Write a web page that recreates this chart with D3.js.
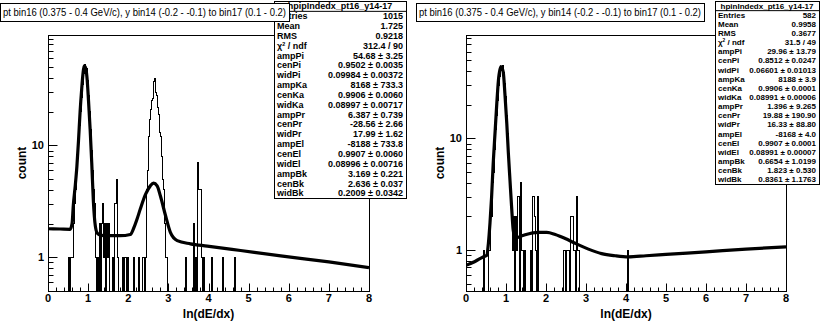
<!DOCTYPE html>
<html><head><meta charset="utf-8">
<script src="https://cdn.jsdelivr.net/npm/d3@7/dist/d3.min.js"></script>
<style>body{margin:0;background:#fff} svg{display:block}</style>
</head><body><svg id="c" width="836" height="328"></svg>
<script>
// ---------------- data ----------------
const binWidth = 0.025;
const nBins = 320;
const xTicks = [0,1,2,3,4,5,6,7,8];
const yTickValues = [1, 10];
const yTickLabels = ["1", "10"];
const titleText = "pt bin16 (0.375 - 0.4 GeV/c), y bin14 (-0.2 - -0.1) to bin17 (0.1 - 0.2)";
const xTitle = "ln(dE/dx)";
const yTitle = "count";

// left histogram (bin number, counts)
const leftBinIndex = [20,22,23,24,25,26,27,28,29,30,31,32,33,34,35,36,37,38,39,40,41,42,43,44,45,46,47,49,
  51,53,54,55,56,58,59,60,64,66,67,68,69,74,76,77,79,85,90,94,95,
  97,98,99,100,101,102,103,104,105,106,107,108,109,110,111,112,113,114,115,116,117,
  118,137,145,147,149,150,151,152,153,155,163,174,186];
const leftBinCount = [1,1,1,1,2,3,4,6,8,11,15,20,27,35,44,53,47,49,38,28,20,14,9,6,4,3,1,1,
  2,2,3,1,2,2,1,2,1,3,3,5,1,1,1,1,1,1,1,1,1,
  1,4,6,12,17,21,25,26,37,40,30,28,22,19,13,12,8,5,4,2,1,
  1,1,2,1,7,4,4,4,1,1,1,1,1];

// right histogram
const rightBinIndex = [17,22,23,24,25,26,27,28,29,30,31,32,33,34,35,36,37,38,39,40,41,42,43,44,45,
  46,47,49,50,51,52,54,55,56,58,64,66,67,68,69,71,
  97,98,100,101,102,104,105,106,107,108,110,111,112,161];
const rightBinCount = [1,1,1,2,2,4,5,8,12,16,22,30,36,44,41,45,39,31,24,16,11,7,5,3,2,
  1,2,2,1,3,3,4,1,1,1,1,3,3,2,1,3,
  1,1,1,1,1,2,2,2,1,1,3,1,1,1];

// fit curves (x, y)
const leftFitX = [0,0.3,0.55,0.6,0.63,0.68,0.72,0.76,0.8,0.84,0.87,0.9,0.93,0.97,1.01,1.05,1.09,1.13,1.18,1.23,1.3,1.47,1.8,2.05,2.13,2.22,2.3,2.43,2.55,2.63,2.72,2.8,2.93,3.05,3.22,3.55,3.97,4.8,5.8,7,8];
const leftFitY = [1.80,1.79,1.78,2.0,2.9,4.4,6.5,11,20,32,43,51.5,50,41,25,14,7,3.2,1.9,1.64,1.58,1.56,1.56,1.6,1.8,2.2,2.7,3.65,4.35,4.6,4.35,3.55,2.35,1.67,1.41,1.32,1.26,1.15,1.03,0.91,0.81];
const rightFitX = [0,0.225,0.43,0.52,0.56,0.6,0.64,0.68,0.73,0.77,0.81,0.87,0.93,0.975,1.02,1.06,1.1,1.14,1.18,1.23,1.3,1.48,1.81,2.02,2.23,2.48,2.73,3.06,3.39,3.73,4.06,4.5,5,6,7,8];
const rightFitY = [0.73,0.79,0.87,0.9,1.15,1.75,3.0,6.0,11.9,20.6,33,44,39.5,24.5,13.6,7.3,4.2,2.44,1.51,1.27,1.3,1.37,1.44,1.44,1.38,1.27,1.15,1.02,0.93,0.89,0.87,0.89,0.915,0.965,1.02,1.07];

// stats boxes
const statLabels = ["Entries","Mean","RMS","CHI2","ampPi","cenPi","widPi","ampKa","cenKa","widKa","ampPr","cenPr","widPr","ampEl","cenEl","widEl","ampBk","cenBk","widBk"];
const leftStatName = "hpipIndedx_pt16_y14-17";
const leftStatValues = ["1015","1.725","0.9218","312.4 / 90","54.68 \u00b1 3.25","0.9502 \u00b1 0.0035","0.09984 \u00b1 0.00372","8168 \u00b1 733.3","0.9906 \u00b1 0.0060","0.08997 \u00b1 0.00717","6.387 \u00b1 0.739","-28.56 \u00b1 2.66","17.99 \u00b1 1.62","-8188 \u00b1 733.8","0.9907 \u00b1 0.0060","0.08996 \u00b1 0.00716","3.169 \u00b1 0.221","2.636 \u00b1 0.037","0.2009 \u00b1 0.0342"];
const rightStatName = "hpinIndedx_pt16_y14-17";
const rightStatValues = ["582","0.9958","0.3677","31.5 / 49","29.96 \u00b1 13.79","0.8512 \u00b1 0.0247","0.06601 \u00b1 0.01013","8188 \u00b1 3.9","0.9906 \u00b1 0.0001","0.08991 \u00b1 0.00006","1.396 \u00b1 9.265","19.88 \u00b1 190.90","16.33 \u00b1 88.80","-8168 \u00b1 4.0","0.9907 \u00b1 0.0001","0.08991 \u00b1 0.00007","0.6654 \u00b1 1.0199","1.823 \u00b1 0.530","0.8361 \u00b1 1.1763"];

// ---------------- drawing ----------------
const svg = d3.select("#c");
const FONT = "'Liberation Sans', Arial, Helvetica, sans-serif";

function panel(opt) {
  const {fx0, fx1, fy0, fy1, yDom, binIdx, binCnt, fitX, fitY, id} = opt;
  const x = d3.scaleLinear().domain([0, 8]).range([fx0, fx1]);
  const y = d3.scaleLog().domain(yDom).range([fy1, fy0]);
  const g = svg.append("g");
  g.append("clipPath").attr("id", "clip" + id).append("rect")
    .attr("x", fx0).attr("y", fy0).attr("width", fx1 - fx0).attr("height", fy1 - fy0);

  // full bin array (empty bins = 0)
  const counts = new Array(nBins).fill(0);
  binIdx.forEach((b, k) => { counts[b] = binCnt[k]; });
  const bottom = y.range()[0];
  let p = d3.path();
  p.moveTo(x(0), bottom);
  counts.forEach((c, i) => {
    const yy = c > 0 ? y(c) : bottom + 2;
    p.lineTo(x(i * binWidth), yy);
    p.lineTo(x((i + 1) * binWidth), yy);
  });
  p.lineTo(x(8), bottom + 2);
  g.append("path").attr("d", p.toString()).attr("fill", "none").attr("stroke", "#000")
    .attr("stroke-width", 1).attr("shape-rendering", "crispEdges")
    .attr("clip-path", `url(#clip${id})`);

  // fit
  const pts = fitX.map((v, k) => [v, fitY[k]]);
  g.append("path").attr("d", d3.line().x(d => x(d[0])).y(d => y(d[1])).curve(d3.curveMonotoneX)(pts))
    .attr("fill", "none").attr("stroke", "#000").attr("stroke-width", 3.2)
    .attr("clip-path", `url(#clip${id})`);

  // frame
  g.append("rect").attr("x", fx0 + 0.5).attr("y", fy0 + 0.5).attr("width", fx1 - fx0)
    .attr("height", fy1 - fy0).attr("fill", "none").attr("stroke", "#000").attr("stroke-width", 1);

  // x axis ticks
  const xMinor = d3.range(0, 41).map(k => k * 0.2);
  xMinor.forEach(v => {
    const isMaj = Math.abs(v - Math.round(v)) < 1e-6;
    const px = Math.round(x(v)) + 0.5;
    g.append("line").attr("x1", px).attr("x2", px).attr("y1", fy1 + 0.5)
      .attr("y2", fy1 + 0.5 - (isMaj ? 8 : 4)).attr("stroke", "#000");
  });
  g.selectAll(".xl").data(xTicks).enter().append("text")
    .attr("x", d => x(d)).attr("y", fy1 + 11).attr("text-anchor", "middle")
    .attr("font-family", FONT).attr("font-weight", "bold").attr("font-size", 11).text(d => d);

  // y axis ticks
  const yMinor = [];
  [0.1, 1, 10].forEach(dec => { for (let m = 1; m <= 9; m++) yMinor.push(m * dec); });
  yMinor.filter(v => v >= yDom[0] && v <= yDom[1]).forEach(v => {
    const isMaj = yTickValues.includes(v);
    const py = Math.round(y(v)) + 0.5;
    g.append("line").attr("x1", fx0 + 0.5).attr("x2", fx0 + 0.5 + (isMaj ? 9 : 5))
      .attr("y1", py).attr("y2", py).attr("stroke", "#000");
  });
  yTickValues.forEach((v, k) => {
    g.append("text").attr("x", fx0 - 4).attr("y", y(v) + 4).attr("text-anchor", "end")
      .attr("font-family", FONT).attr("font-weight", "bold").attr("font-size", 11).text(yTickLabels[k]);
  });

  // axis titles
  g.append("text").attr("x", (fx0 + fx1) / 2).attr("y", 318).attr("text-anchor", "middle")
    .attr("font-family", FONT).attr("font-weight", "bold").attr("font-size", 12).text(xTitle);
  g.append("text").attr("transform", `translate(${fx0 - 22},${(fy0 + fy1) / 2}) rotate(-90)`)
    .attr("text-anchor", "middle").attr("font-family", FONT).attr("font-weight", "bold")
    .attr("font-size", 12).text(yTitle);
}

function stats(bx, by, bw, bh, name, values, fs) {
  const g = svg.append("g");
  const rowH = bh / 20;
  g.append("rect").attr("x", bx + 0.5).attr("y", by + 0.5).attr("width", bw).attr("height", bh)
    .attr("fill", "#fff").attr("stroke", "#000");
  g.append("line").attr("x1", bx).attr("x2", bx + bw).attr("y1", by + rowH + 0.5).attr("y2", by + rowH + 0.5)
    .attr("stroke", "#000");
  g.append("text").attr("x", bx + bw / 2).attr("y", by + rowH * 0.5 + fs * 0.37).attr("text-anchor", "middle")
    .attr("font-family", FONT).attr("font-weight", "bold").attr("font-size", fs).text(name);
  statLabels.forEach((lab, k) => {
    const yy = by + rowH * (k + 1.5) + fs * 0.37;
    const t = g.append("text").attr("x", bx + 3).attr("y", yy)
      .attr("font-family", FONT).attr("font-weight", "bold").attr("font-size", fs);
    if (lab === "CHI2") {
      t.append("tspan").text("\u03c7");
      t.append("tspan").attr("dy", -3).attr("font-size", fs * 0.6).text("2");
      t.append("tspan").attr("dy", 3).text(" / ndf");
    } else t.text(lab);
    g.append("text").attr("x", bx + bw - 3).attr("y", yy).attr("text-anchor", "end")
      .attr("font-family", FONT).attr("font-weight", "bold").attr("font-size", fs).text(values[k]);
  });
}

function titleBox(bx, by, bw, bh) {
  const g = svg.append("g");
  g.append("rect").attr("x", bx + 0.5).attr("y", by + 0.5).attr("width", bw).attr("height", bh)
    .attr("fill", "#fff").attr("stroke", "#000");
  g.append("text").attr("x", bx + 3).attr("y", by + 13).attr("font-family", FONT)
    .attr("font-size", 10.5).attr("textLength", bw - 6).attr("lengthAdjust", "spacingAndGlyphs")
    .text(titleText);
}

panel({fx0: 48, fx1: 369, fy0: 35, fy1: 291, yDom: [0.5, 97], binIdx: leftBinIndex, binCnt: leftBinCount, fitX: leftFitX, fitY: leftFitY, id: "L"});
panel({fx0: 466, fx1: 786, fy0: 35, fy1: 291, yDom: [0.43, 84.5], binIdx: rightBinIndex, binCnt: rightBinCount, fitX: rightFitX, fitY: rightFitY, id: "R"});
stats(274, 1, 132, 197, leftStatName, leftStatValues, 9);
stats(715, 1, 104, 183, rightStatName, rightStatValues, 8);
titleBox(0, 3, 289, 18);
titleBox(416, 3, 288, 18);
</script></body></html>
